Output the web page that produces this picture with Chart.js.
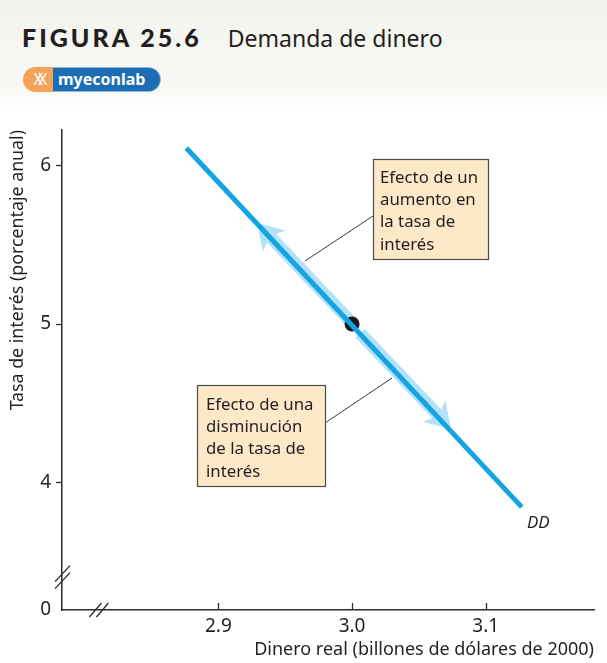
<!DOCTYPE html>
<html>
<head>
<meta charset="utf-8">
<script src="https://cdn.jsdelivr.net/npm/chart.js@4/dist/chart.umd.min.js"></script>
<style>
  html, body { margin: 0; padding: 0; background: #fff; }
  body { width: 607px; height: 663px; position: relative; overflow: hidden; font-family: "Noto Sans", sans-serif; }
  #head { position: absolute; left: 0; top: 0; width: 607px; height: 112px; background: linear-gradient(#f3f3ee, #f8f8f5 80%, #fff); }
  #title { position: absolute; left: 22px; top: 22px; color: #231f20; white-space: nowrap; }
  #title b { font-family: Lato, sans-serif; font-weight: 900; font-size: 25px; letter-spacing: 3px; }
  #title span { font-size: 23px; margin-left: 26px; }
  #logo { position: absolute; left: 23px; top: 67px; height: 25px; width: 138px; border-radius: 13px; overflow: hidden; display: flex; }
  #logo .xx { width: 30px; background: #f4a25a; color: #fff; font-size: 16px; line-height: 25px; text-align: center; letter-spacing: -5px; }
  #logo .mel { flex: 1; background: #1c6db4; color: #fff; font-weight: bold; font-size: 16px; line-height: 23px; padding-left: 5px; border: 1px solid #8fb7de; border-left: none; border-radius: 0 13px 13px 0; }
  #c { position: absolute; left: 0; top: 0; }
</style>
</head>
<body>
<div id="head">
  <div id="title"><b>FIGURA 25.6</b><span>Demanda de dinero</span></div>
  <div id="logo"><div class="xx">XX</div><div class="mel">myeconlab</div></div>
</div>
<canvas id="c" width="607" height="663"></canvas>
<script>
// axis ranges and ticks
const xRange = [2.783, 3.181];
const yRange = [3.196, 6.224];
const xTicks = [2.9, 3.0, 3.1];
const yTicks = [4, 5, 6];

// money demand curve DD
const ddX = [2.876, 3.127];
const ddY = [6.11, 3.845];

// equilibrium point
const eqX = [3.0];
const eqY = [5.0];

// movement arrows along DD: [fromX, fromY, tipX, tipY]
const upArrow = [2.9985, 5.019, 2.929, 5.637];
const downArrow = [3.006, 4.943, 3.0742, 4.337];

// axis break positions
const yBreak = 3.40;
const xBreak = 2.811;

const boxes = [
  { rect: [373, 159, 115, 100], textX: 380, textY: 178, lines: ['Efecto de un', 'aumento en', 'la tasa de', 'interés'], link: [373, 216, 305, 261] },
  { rect: [197, 385, 128, 101], textX: 206, textY: 405, lines: ['Efecto de una', 'disminución', 'de la tasa de', 'interés'], link: [325, 423, 392, 378] }
];

const darkBlue = '#14a4e4';
const lightBlue = '#b3e1f8';
const axisColor = '#2b2b2b';
const fontFam = '"Noto Sans", sans-serif';

function drawArrow(ctx, x0, y0, x1, y1) {
  const dx = x1 - x0, dy = y1 - y0;
  const len = Math.hypot(dx, dy);
  const ux = dx / len, uy = dy / len;
  const nx = -uy, ny = ux;
  const w = 6.3, hw = 15.5, hl = 21, sweep = 4;
  const bx = x1 - ux * hl, by = y1 - uy * hl;
  ctx.beginPath();
  ctx.moveTo(x0 + nx * w, y0 + ny * w);
  ctx.lineTo(bx + nx * w, by + ny * w);
  ctx.lineTo(bx - ux * sweep + nx * hw, by - uy * sweep + ny * hw);
  ctx.lineTo(x1, y1);
  ctx.lineTo(bx - ux * sweep - nx * hw, by - uy * sweep - ny * hw);
  ctx.lineTo(bx - nx * w, by - ny * w);
  ctx.lineTo(x0 - nx * w, y0 - ny * w);
  ctx.closePath();
  ctx.fill();
}

const figPlugin = {
  id: 'fig',
  beforeDatasetsDraw(chart) {
    const ctx = chart.ctx, xs = chart.scales.x, ys = chart.scales.y;
    ctx.save();
    ctx.fillStyle = lightBlue;
    [upArrow, downArrow].forEach(a => {
      drawArrow(ctx, xs.getPixelForValue(a[0]), ys.getPixelForValue(a[1]),
        xs.getPixelForValue(a[2]), ys.getPixelForValue(a[3]));
    });
    ctx.restore();
  },
  afterDraw(chart) {
    const ctx = chart.ctx, xs = chart.scales.x, ys = chart.scales.y;
    const area = chart.chartArea;
    ctx.save();
    // x tick marks pointing up
    ctx.strokeStyle = axisColor;
    ctx.lineWidth = 1.3;
    xTicks.forEach(v => {
      const px = Math.round(xs.getPixelForValue(v)) + 0.5;
      ctx.beginPath();
      ctx.moveTo(px, area.bottom);
      ctx.lineTo(px, area.bottom - 7);
      ctx.stroke();
    });
    // axis breaks
    const by = ys.getPixelForValue(yBreak);
    [-4, 3].forEach(o => {
      ctx.beginPath();
      ctx.moveTo(area.left - 7, by + o + 8);
      ctx.lineTo(area.left + 8, by + o - 8);
      ctx.stroke();
    });
    const bx = xs.getPixelForValue(xBreak);
    [-4, 3].forEach(o => {
      ctx.beginPath();
      ctx.moveTo(bx + o - 6, area.bottom + 7);
      ctx.lineTo(bx + o + 6, area.bottom - 7);
      ctx.stroke();
    });
    // callouts
    ctx.font = '16.8px ' + fontFam;
    ctx.textBaseline = 'middle';
    ctx.textAlign = 'left';
    boxes.forEach(b => {
      ctx.strokeStyle = '#3a3a3a';
      ctx.lineWidth = 1;
      ctx.beginPath();
      ctx.moveTo(b.link[0], b.link[1]);
      ctx.lineTo(b.link[2], b.link[3]);
      ctx.stroke();
      ctx.fillStyle = '#fde9c8';
      ctx.fillRect(b.rect[0], b.rect[1], b.rect[2], b.rect[3]);
      ctx.lineWidth = 1.2;
      ctx.strokeStyle = '#4a4a4a';
      ctx.strokeRect(b.rect[0] + 0.5, b.rect[1] + 0.5, b.rect[2], b.rect[3]);
      ctx.fillStyle = '#231f20';
      b.lines.forEach((t, i) => ctx.fillText(t, b.textX, b.textY + i * 22.3));
    });
    // curve label
    ctx.font = 'italic 17px ' + fontFam;
    ctx.fillText('DD', 527, 523);
    ctx.restore();
  }
};

new Chart(document.getElementById('c'), {
  type: 'scatter',
  data: {
    datasets: [
      {
        label: 'DD',
        data: ddX.map((x, i) => ({ x: x, y: ddY[i] })),
        showLine: true,
        borderColor: darkBlue,
        borderWidth: 5,
        borderCapStyle: 'butt',
        pointRadius: 0
      },
      {
        label: 'equilibrio',
        data: eqX.map((x, i) => ({ x: x, y: eqY[i] })),
        pointRadius: 7.5,
        pointBackgroundColor: '#1a1a1a',
        pointBorderColor: '#1a1a1a',
        pointBorderWidth: 0
      }
    ]
  },
  options: {
    responsive: false,
    animation: false,
    layout: { padding: { top: 130, right: 13, left: 0, bottom: 0 } },
    plugins: { legend: { display: false }, tooltip: { enabled: false } },
    scales: {
      x: {
        type: 'linear',
        min: xRange[0],
        max: xRange[1],
        afterBuildTicks: s => { s.ticks = xTicks.map(v => ({ value: v })); },
        afterFit: s => { s.height = 53; },
        grid: { display: false, tickLength: 0 },
        border: { color: axisColor, width: 1.5 },
        ticks: {
          padding: 5,
          color: '#231f20',
          font: { family: fontFam, size: 19 },
          callback: v => v.toFixed(1)
        },
        title: {
          display: true,
          align: 'end',
          text: 'Dinero real (billones de dólares de 2000)',
          color: '#231f20',
          font: { family: fontFam, size: 18 },
          padding: { top: 0, bottom: 2 }
        }
      },
      y: {
        type: 'linear',
        min: yRange[0],
        max: yRange[1],
        afterBuildTicks: s => { s.ticks = [yRange[0]].concat(yTicks).map(v => ({ value: v })); },
        afterFit: s => { s.width = 62; },
        grid: {
          drawOnChartArea: false,
          tickLength: 6,
          tickWidth: 1.3,
          color: c => (c.tick && c.tick.value === yRange[0]) ? 'rgba(0,0,0,0)' : axisColor
        },
        border: { color: axisColor, width: 1.5 },
        ticks: {
          padding: 5,
          color: '#231f20',
          font: { family: fontFam, size: 19 },
          callback: v => v === yRange[0] ? '0' : String(v)
        },
        title: {
          display: true,
          align: 'end',
          text: 'Tasa de interés (porcentaje anual)',
          color: '#231f20',
          font: { family: fontFam, size: 17.8 },
          padding: { top: 7, bottom: 0 }
        }
      }
    }
  },
  plugins: [figPlugin]
});
</script>
</body>
</html>
